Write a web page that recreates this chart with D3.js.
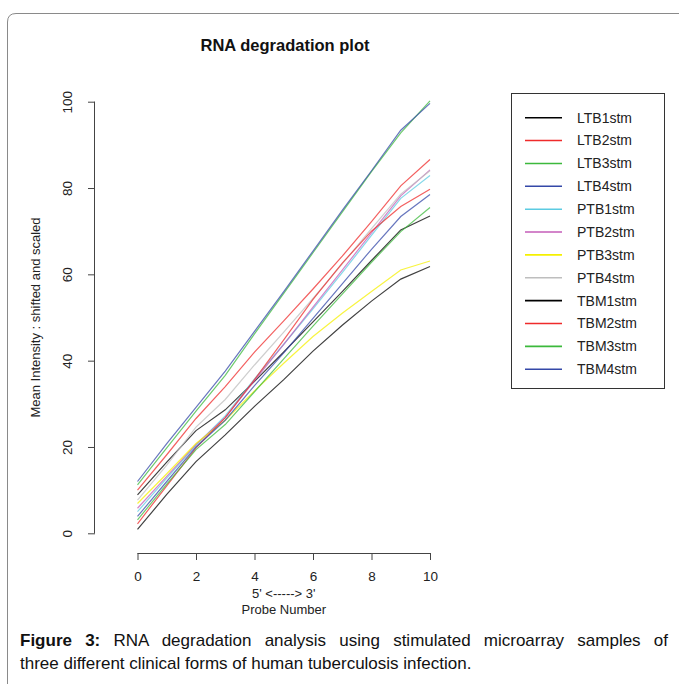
<!DOCTYPE html>
<html>
<head>
<meta charset="utf-8">
<script src="https://cdn.jsdelivr.net/npm/d3@7"></script>
<style>
  body { margin: 0; background: #fff; }
  svg text { font-family: "Liberation Sans", Arial, sans-serif; }
</style>
</head>
<body>
<div id="chart"></div>
<script>
// probe positions (x) and sample curves
var probes = [0, 1, 2, 3, 4, 5, 6, 7, 8, 9, 10];

var LTB1stm = [8.9, 16.5, 23.8, 28.6, 35.2, 42.0, 49.0, 56.0, 63.2, 70.3, 73.5];
var LTB2stm = [10.0, 18.2, 26.6, 34.0, 42.0, 49.2, 56.6, 64.2, 72.2, 80.5, 86.6];
var LTB3stm = [11.2, 19.8, 28.3, 36.6, 46.2, 55.6, 65.0, 74.4, 83.8, 92.8, 100.2];
var LTB4stm = [12.0, 20.8, 29.2, 37.6, 46.8, 56.0, 65.4, 74.8, 84.0, 93.4, 99.6];
var PTB1stm = [5.0, 12.8, 20.4, 27.2, 35.8, 43.8, 52.0, 60.4, 69.0, 77.6, 82.9];
var PTB2stm = [5.8, 13.2, 20.6, 26.8, 35.4, 43.8, 52.4, 61.0, 69.6, 78.2, 84.2];
var PTB3stm = [6.9, 13.8, 20.8, 26.2, 33.0, 39.4, 45.6, 51.0, 56.0, 61.0, 63.1];
var PTB4stm = [7.7, 15.8, 24.6, 31.0, 39.0, 46.6, 54.4, 62.4, 70.6, 78.6, 84.0];
var TBM1stm = [0.9, 9.0, 16.6, 22.8, 29.4, 35.6, 42.2, 48.2, 53.8, 58.9, 61.8];
var TBM2stm = [2.2, 11.0, 19.8, 26.8, 35.6, 44.8, 54.2, 62.6, 70.0, 75.7, 79.7];
var TBM3stm = [3.1, 11.4, 19.4, 25.2, 32.8, 40.4, 48.0, 55.4, 62.8, 69.9, 75.5];
var TBM4stm = [3.9, 12.0, 20.0, 26.2, 34.2, 41.8, 49.8, 57.8, 65.8, 73.4, 78.5];

var sampleNames = ["LTB1stm", "LTB2stm", "LTB3stm", "LTB4stm", "PTB1stm", "PTB2stm",
  "PTB3stm", "PTB4stm", "TBM1stm", "TBM2stm", "TBM3stm", "TBM4stm"];
var sampleValues = [LTB1stm, LTB2stm, LTB3stm, LTB4stm, PTB1stm, PTB2stm,
  PTB3stm, PTB4stm, TBM1stm, TBM2stm, TBM3stm, TBM4stm];

var xTicks = [0, 2, 4, 6, 8, 10];
var yTicks = [0, 20, 40, 60, 80, 100];

// R default palette (1:8), recycled
var palette = ["#000000", "#ef2b2b", "#3cb93c", "#3448a8", "#5ccbe2", "#c45cb8", "#f5f000", "#bebebe"];

var W = 679, H = 684;

var svg = d3.select("#chart").append("svg")
  .attr("width", W)
  .attr("height", H);

// outer frame of the figure panel
svg.append("path")
  .attr("d", "M7.5,690 L7.5,22 Q7.5,13.5 16,13.5 L690,13.5")
  .attr("fill", "none")
  .attr("stroke", "#8a8a8a")
  .attr("stroke-width", 1);

var x = d3.scaleLinear().domain([0, 10]).range([137.5, 430]);
var y = d3.scaleLinear().domain([0, 100]).range([533.3, 101.7]);

// title
svg.append("text")
  .attr("x", 285)
  .attr("y", 51)
  .attr("text-anchor", "middle")
  .style("font-size", "16.5px")
  .style("font-weight", "bold")
  .style("fill", "#111")
  .text("RNA degradation plot");

// X axis (R style: line spans first to last tick)
var xAxis = svg.append("g")
  .attr("transform", "translate(0,553)")
  .call(d3.axisBottom(x).tickValues(xTicks).tickSize(7).tickSizeOuter(0).tickPadding(11));
xAxis.select(".domain").attr("d", "M" + x(0) + ",0.5H" + x(10)).attr("stroke", "#444");
xAxis.selectAll(".tick line").attr("stroke", "#444");
xAxis.selectAll(".tick text").style("font-size", "13.5px").style("fill", "#222");

// Y axis
var yAxis = svg.append("g")
  .attr("transform", "translate(95,0)")
  .call(d3.axisLeft(y).tickValues(yTicks).tickSize(7).tickSizeOuter(0).tickFormat(d3.format("d")));
yAxis.select(".domain").attr("d", "M-0.5," + y(0) + "V" + y(100)).attr("stroke", "#444");
yAxis.selectAll(".tick line").attr("stroke", "#444");
yAxis.selectAll(".tick text")
  .attr("x", null).attr("dy", null)
  .attr("transform", "translate(-28,0) rotate(-90)")
  .attr("text-anchor", "middle")
  .attr("dominant-baseline", "central")
  .style("font-size", "13.5px")
  .style("fill", "#222");

// axis titles
svg.append("text")
  .attr("x", 283.75).attr("y", 598)
  .attr("text-anchor", "middle")
  .style("font-size", "13px").style("fill", "#222")
  .text("5' <-----> 3'");
svg.append("text")
  .attr("x", 283.75).attr("y", 614)
  .attr("text-anchor", "middle")
  .style("font-size", "13px").style("fill", "#222")
  .text("Probe Number");
svg.append("text")
  .attr("transform", "translate(40,317.5) rotate(-90)")
  .attr("text-anchor", "middle")
  .style("font-size", "13px").style("fill", "#222")
  .text("Mean Intensity : shifted and scaled");

// lines
var line = d3.line()
  .x(function (d, i) { return x(probes[i]); })
  .y(function (d) { return y(d); });

svg.append("g").selectAll("path")
  .data(sampleValues)
  .enter()
  .append("path")
  .attr("d", function (d) { return line(d); })
  .attr("fill", "none")
  .attr("stroke", function (d, i) { return palette[i % 8]; })
  .attr("stroke-opacity", 0.75)
  .attr("stroke-width", 1.2);

// legend
var legend = svg.append("g");
legend.append("rect")
  .attr("x", 511.5).attr("y", 93.5)
  .attr("width", 153).attr("height", 295)
  .attr("fill", "#fff")
  .attr("stroke", "#333");

var item = legend.selectAll(".item")
  .data(sampleNames)
  .enter()
  .append("g")
  .attr("class", "item")
  .attr("transform", function (d, i) { return "translate(0," + (117.7 + i * 22.87) + ")"; });
item.append("line")
  .attr("x1", 525).attr("x2", 562)
  .attr("y1", 0).attr("y2", 0)
  .attr("stroke", function (d, i) { return palette[i % 8]; })
  .attr("stroke-width", 1.6);
item.append("text")
  .attr("x", 577)
  .attr("dy", "0.35em")
  .style("font-size", "14px")
  .style("fill", "#222")
  .text(function (d) { return d; });

// caption, first line justified through word spacing
var cap1 = svg.append("text")
  .attr("x", 20).attr("y", 646)
  .style("font-size", "17px").style("fill", "#111");
cap1.append("tspan").style("font-weight", "bold").text("Figure 3:");
cap1.append("tspan").text(" RNA degradation analysis using stimulated microarray samples of");
var natural = cap1.node().getComputedTextLength();
var gaps = 9;
cap1.style("word-spacing", Math.max(0, (648 - natural) / gaps) + "px");

svg.append("text")
  .attr("x", 20).attr("y", 669)
  .style("font-size", "17px").style("fill", "#111")
  .text("three different clinical forms of human tuberculosis infection.");
</script>
</body>
</html>
